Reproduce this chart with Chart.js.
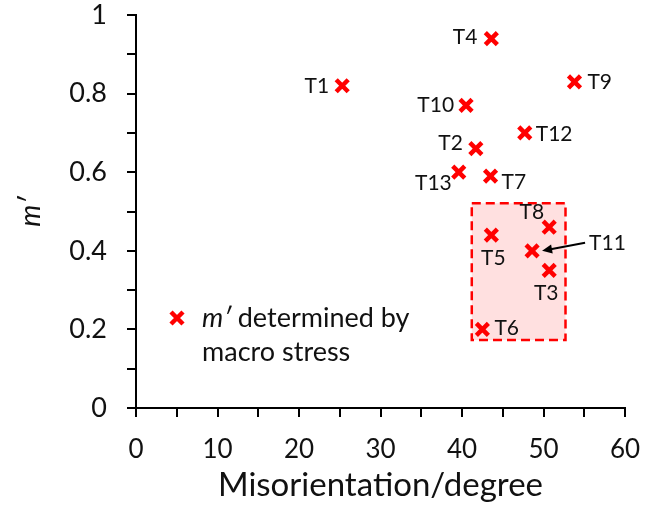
<!DOCTYPE html>
<html>
<head>
<meta charset="utf-8">
<script src="https://cdn.jsdelivr.net/npm/chart.js@4.4.1/dist/chart.umd.min.js"></script>
<style>
  html, body { margin: 0; padding: 0; background: #fff; }
  #wrap { width: 649px; height: 508px; }
</style>
</head>
<body>
<div id="wrap"><canvas id="chart"></canvas></div>
<script>
// grains and their values
const names = ['T1', 'T2', 'T3', 'T4', 'T5', 'T6', 'T7', 'T8', 'T9', 'T10', 'T11', 'T12', 'T13'];
const misorientation = [25.3, 41.7, 50.7, 43.6, 43.6, 42.5, 43.5, 50.7, 53.8, 40.5, 48.6, 47.7, 39.6];
const mPrime = [0.82, 0.66, 0.35, 0.94, 0.44, 0.20, 0.59, 0.46, 0.83, 0.77, 0.40, 0.70, 0.60];

// highlighted region (data units)
const boxX = [41.2, 52.7];
const boxY = [0.173, 0.521];

// label placement next to each point: [dx, dy, align]
const labelOffsets = [
  [-13, 0, 'right'], [-13, -5, 'right'], [-3, 23, 'center'], [-14, -1, 'right'],
  [2, 23, 'center'], [12, -1, 'left'], [11, 6, 'left'], [-5, -15, 'right'],
  [13, 0, 'left'], [-12, 0, 'right'], [57, -8, 'left'], [11, 1, 'left'], [-7, 11, 'right']
];

const RED = '#ff0000';
const FONT = 'Lato, "Open Sans", sans-serif';

const overlay = {
  id: 'overlay',
  beforeDatasetsDraw(chart) {
    const { ctx, scales: { x, y } } = chart;
    const l = x.getPixelForValue(boxX[0]), r = x.getPixelForValue(boxX[1]);
    const t = y.getPixelForValue(boxY[1]), b = y.getPixelForValue(boxY[0]);
    ctx.save();
    ctx.fillStyle = 'rgba(255, 0, 0, 0.12)';
    ctx.fillRect(l, t, r - l, b - t);
    ctx.setLineDash([9, 5]);
    ctx.strokeStyle = RED;
    ctx.lineWidth = 2.5;
    ctx.strokeRect(l, t, r - l, b - t);
    ctx.restore();
  },
  afterDatasetsDraw(chart) {
    const { ctx, chartArea, scales: { x, y } } = chart;
    ctx.save();
    ctx.fillStyle = '#111';
    ctx.font = '21px ' + FONT;
    ctx.textBaseline = 'middle';
    names.forEach((n, i) => {
      const px = x.getPixelForValue(misorientation[i]);
      const py = y.getPixelForValue(mPrime[i]);
      const [dx, dy, align] = labelOffsets[i];
      ctx.textAlign = align;
      ctx.fillText(n, px + dx, py + dy);
      if (n === 'T11') {
        // arrow from label to point
        const sx = px + 53, sy = py - 8, ex = px + 10, ey = py;
        const ang = Math.atan2(ey - sy, ex - sx);
        ctx.strokeStyle = '#000';
        ctx.lineWidth = 2;
        ctx.beginPath();
        ctx.moveTo(sx, sy);
        ctx.lineTo(ex - 6 * Math.cos(ang), ey - 6 * Math.sin(ang));
        ctx.stroke();
        ctx.fillStyle = '#000';
        ctx.beginPath();
        ctx.moveTo(ex, ey);
        ctx.lineTo(ex - 10 * Math.cos(ang) + 4.5 * Math.sin(ang), ey - 10 * Math.sin(ang) - 4.5 * Math.cos(ang));
        ctx.lineTo(ex - 10 * Math.cos(ang) - 4.5 * Math.sin(ang), ey - 10 * Math.sin(ang) + 4.5 * Math.cos(ang));
        ctx.closePath();
        ctx.fill();
        ctx.fillStyle = '#111';
      }
    });

    // legend inside the plot
    const lx = chartArea.left + 41, ly = 318;
    ctx.strokeStyle = RED;
    ctx.lineWidth = 4.5;
    ctx.beginPath();
    ctx.moveTo(lx - 6, ly - 6); ctx.lineTo(lx + 6, ly + 6);
    ctx.moveTo(lx + 6, ly - 6); ctx.lineTo(lx - 6, ly + 6);
    ctx.stroke();
    ctx.textAlign = 'left';
    ctx.fillStyle = '#111';
    ctx.font = 'italic 27px ' + FONT;
    const tx = lx + 25;
    ctx.fillText('m′', tx, ly);
    const w = ctx.measureText('m′ ').width;
    ctx.font = '27px ' + FONT;
    ctx.fillText('determined by', tx + w, ly);
    ctx.fillText('macro stress', tx, ly + 34);
    ctx.restore();
  }
};

new Chart(document.getElementById('chart'), {
  type: 'scatter',
  data: {
    datasets: [{
      label: 'm′ determined by macro stress',
      data: misorientation.map((v, i) => ({ x: v, y: mPrime[i] })),
      pointStyle: 'crossRot',
      pointRadius: 8.5,
      pointHoverRadius: 8.5,
      borderWidth: 4.5,
      borderColor: RED,
      backgroundColor: RED
    }]
  },
  options: {
    responsive: true,
    maintainAspectRatio: false,
    animation: false,
    devicePixelRatio: 1,
    events: [],
    layout: { padding: { top: 15, right: 24, left: 0, bottom: 0 } },
    plugins: { legend: { display: false }, tooltip: { enabled: false } },
    scales: {
      x: {
        type: 'linear',
        min: 0,
        max: 60,
        afterFit: s => { s.height = 100; s.paddingTop = 0; s.paddingLeft = 0; s.paddingRight = 0; },
        border: { color: '#000', width: 2 },
        grid: { drawOnChartArea: false, color: '#000', lineWidth: 2, tickLength: 9 },
        ticks: {
          stepSize: 5,
          color: '#111',
          font: { family: FONT, size: 26 },
          padding: 17,
          maxRotation: 0,
          autoSkip: false,
          callback: v => (v % 10 === 0 ? String(v) : '')
        },
        title: {
          display: true,
          text: 'Misorientation/degree',
          color: '#111',
          font: { family: FONT, size: 33 },
          padding: { top: 0, bottom: 3 }
        }
      },
      y: {
        type: 'linear',
        min: 0,
        max: 1,
        afterFit: s => { s.width = 136; s.paddingTop = 0; s.paddingBottom = 0; },
        border: { color: '#000', width: 2 },
        grid: { drawOnChartArea: false, color: '#000', lineWidth: 2, tickLength: 9 },
        ticks: {
          stepSize: 0.1,
          color: '#111',
          font: { family: FONT, size: 27 },
          padding: 20,
          autoSkip: false,
          callback: v => (Math.round(v * 10) % 2 === 0 ? String(Math.round(v * 10) / 10) : '')
        },
        title: {
          display: true,
          text: 'm′',
          color: '#111',
          font: { family: FONT, size: 28, style: 'italic' },
          padding: { top: 14, bottom: 0 }
        }
      }
    }
  },
  plugins: [overlay]
});
</script>
</body>
</html>
